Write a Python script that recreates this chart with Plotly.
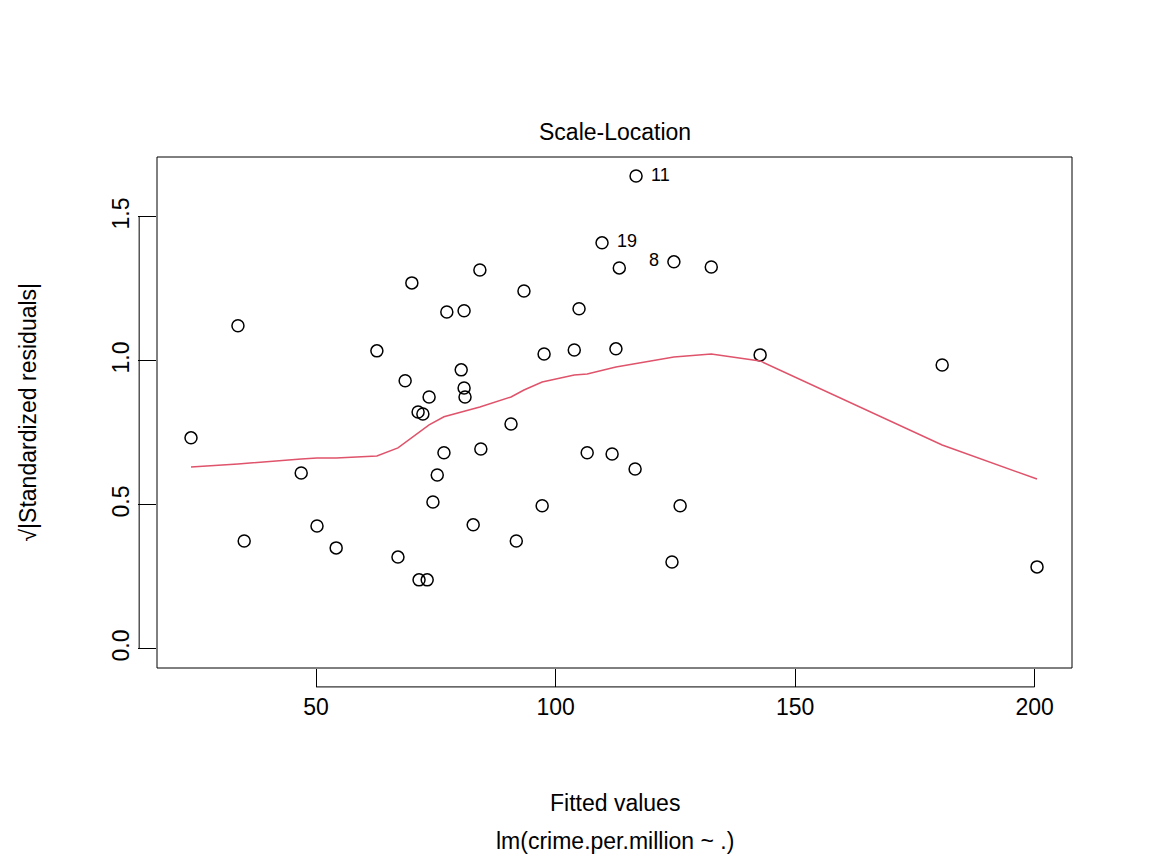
import plotly.graph_objects as go

fitted = [23.9, 33.7, 35.0, 46.9, 50.2, 54.2, 62.7, 67.1, 68.6, 70.0, 71.3, 71.5, 72.3, 73.2,
          73.6, 74.4, 75.3, 76.7, 77.3, 80.3, 80.9, 81.1, 80.9, 82.8, 84.2, 84.4, 90.7, 91.8,
          93.4, 97.2, 97.6, 103.9, 104.9, 106.6, 109.7, 111.8, 112.6, 113.3, 116.6, 116.8,
          124.3, 124.7, 126.0, 132.5, 142.7, 180.7, 200.5]
sqrt_std_resid = [0.733, 1.122, 0.375, 0.611, 0.427, 0.351, 1.035, 0.319, 0.931, 1.271, 0.823,
                  0.240, 0.816, 0.240, 0.875, 0.510, 0.604, 0.681, 1.170, 0.969, 0.906, 0.875,
                  1.174, 0.431, 1.316, 0.694, 0.781, 0.375, 1.243, 0.497, 1.024, 1.038, 1.181,
                  0.681, 1.410, 0.677, 1.042, 1.323, 0.625, 1.642, 0.302, 1.344, 0.497, 1.326,
                  1.021, 0.986, 0.285]

smooth_x = [23.9, 33.7, 46.9, 50.2, 54.2, 62.7, 67.1, 70.0, 73.6, 76.7, 81.1, 84.2, 90.7,
            93.4, 97.2, 103.9, 106.6, 112.6, 124.7, 132.5, 142.7, 180.7, 200.5]
smooth_y = [0.632, 0.642, 0.660, 0.663, 0.663, 0.670, 0.698, 0.733, 0.778, 0.806, 0.826,
            0.840, 0.875, 0.899, 0.927, 0.951, 0.955, 0.979, 1.014, 1.024, 1.000, 0.708, 0.590]

label_x = [116.8, 109.7, 124.7]
label_y = [1.642, 1.410, 1.344]
label_text = ["   11", "   19", "8   "]
label_pos = ["middle right", "middle right", "middle left"]

font = "Liberation Sans, Arial, sans-serif"

fig = go.Figure()
fig.add_trace(go.Scatter(x=fitted, y=sqrt_std_resid, mode="markers",
                         marker=dict(symbol="circle-open", size=12, color="black",
                                     line=dict(width=1.5, color="black"))))
fig.add_trace(go.Scatter(x=smooth_x, y=smooth_y, mode="lines",
                         line=dict(color="#DF536B", width=1.5)))
fig.add_trace(go.Scatter(x=label_x, y=label_y, mode="text", text=label_text,
                         textposition=label_pos, textfont=dict(size=18, color="black")))

fig.update_layout(
    width=1152, height=864, showlegend=False,
    plot_bgcolor="white", paper_bgcolor="white",
    margin=dict(l=149, r=88, t=149, b=204),
    font=dict(family=font, size=23, color="black"),
    xaxis=dict(range=[16.8, 207.8], tickvals=[50, 100, 150, 200], ticks="outside",
               ticklen=18, tickwidth=1, tickcolor="black", showgrid=False, zeroline=False,
               showline=False, mirror=False),
    yaxis=dict(range=[-0.066, 1.708], tickvals=[0.0, 0.5, 1.0, 1.5],
               ticktext=["0.0", "0.5", "1.0", "1.5"], tickangle=-90, ticks="outside",
               ticklen=18, tickwidth=1, tickcolor="black", showgrid=False, zeroline=False,
               showline=False),
    shapes=[
        dict(type="rect", xref="paper", yref="paper", x0=0, x1=1, y0=0, y1=1,
             line=dict(color="black", width=1)),
        dict(type="line", xref="x", yref="paper", x0=50, x1=200, y0=-0.037, y1=-0.037,
             line=dict(color="black", width=1)),
        dict(type="line", xref="paper", yref="y", x0=-0.0195, x1=-0.0195, y0=0, y1=1.5,
             line=dict(color="black", width=1)),
    ],
    annotations=[
        dict(text="Scale-Location", xref="paper", yref="paper", x=0.5, y=1.0, yshift=10,
             yanchor="bottom", showarrow=False, font=dict(size=23)),
        dict(text="Fitted values", xref="paper", yref="paper", x=0.5, y=0, yshift=-120,
             yanchor="top", showarrow=False, font=dict(size=23)),
        dict(text="lm(crime.per.million ~ .)", xref="paper", yref="paper", x=0.5, y=0,
             yshift=-158, yanchor="top", showarrow=False, font=dict(size=23)),
        dict(text="√|Standardized residuals|", xref="paper", yref="paper", x=0, y=0.5,
             xshift=-130, xanchor="center", textangle=-90, showarrow=False,
             font=dict(size=23)),
    ],
)

fig.write_html("out.html")
